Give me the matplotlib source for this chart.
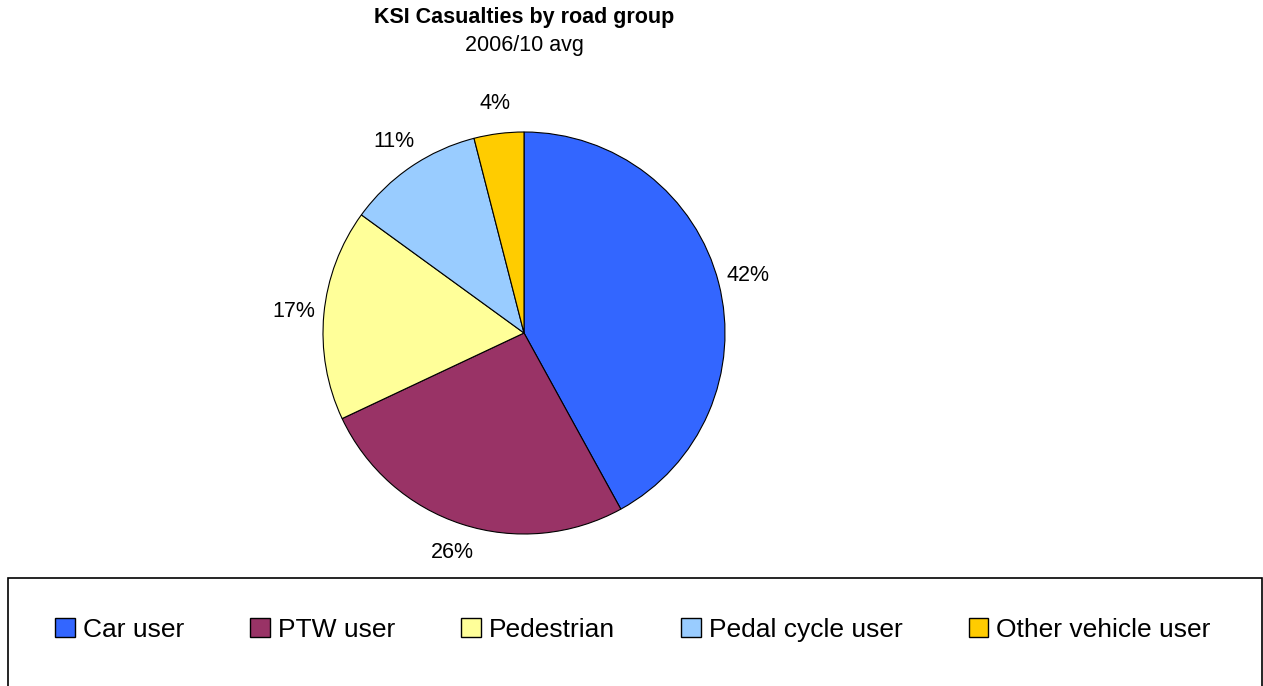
import matplotlib.pyplot as plt
from matplotlib.patches import Rectangle

# Данные диаграммы
labels = ['Car user', 'PTW user', 'Pedestrian', 'Pedal cycle user', 'Other vehicle user']
shares = [42, 26, 17, 11, 4]
colors = ['#3366FF', '#993366', '#FFFF99', '#99CCFF', '#FFCC00']

W, H = 1263, 686


def main():
    plt.rcParams['font.family'] = ['Liberation Sans', 'DejaVu Sans']
    fig = plt.figure(figsize=(W / 100, H / 100), dpi=100)

    # Оси под круг: центр (524, 333), радиус ~201 px
    cx, cy, r = 524, 333, 201
    ax = fig.add_axes([(cx - r) / W, (H - cy - r) / H, 2 * r / W, 2 * r / H])
    wedges, texts, autotexts = ax.pie(
        shares, colors=colors, startangle=90, counterclock=False,
        autopct='%1.0f%%', pctdistance=1.15,
        wedgeprops={'edgecolor': 'black', 'linewidth': 0.8},
        textprops={'fontsize': 15.5},
    )
    ax.set_xlim(-1, 1)
    ax.set_ylim(-1, 1)
    ax.set_aspect('equal')
    ax.axis('off')

    fig.text(cx / W, 1 - 18 / H, 'KSI Casualties by road group',
             ha='center', va='center', fontsize=15.5, fontweight='bold')
    fig.text(cx / W, 1 - 46 / H, '2006/10 avg',
             ha='center', va='center', fontsize=15.5)

    # Рамка легенды
    fig.patches.append(Rectangle((8 / W, -0.01), (1254 / W), (108 / H) + 0.01,
                                 transform=fig.transFigure, fill=False,
                                 edgecolor='black', linewidth=1.2))
    handles = [Rectangle((0, 0), 1, 1, facecolor=c, edgecolor='black', linewidth=1)
               for c in colors]
    fig.legend(handles, labels, loc='center', ncol=5,
               bbox_to_anchor=(633 / W, 1 - 630 / H), frameon=False,
               fontsize=19, handlelength=0.75, handleheight=0.75,
               handletextpad=0.3, columnspacing=2.5)

    plt.savefig('out.png', dpi=100)


if __name__ == '__main__':
    main()
